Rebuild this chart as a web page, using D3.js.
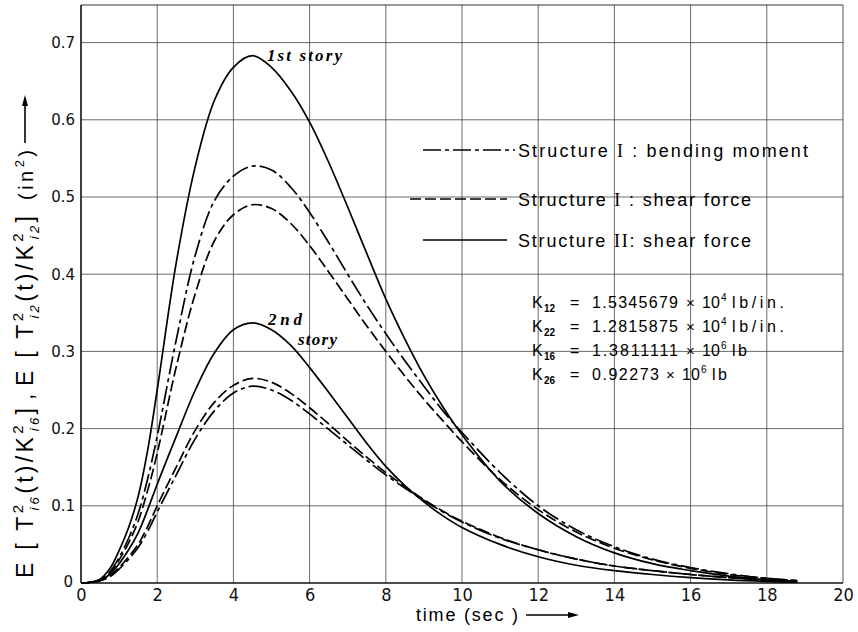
<!DOCTYPE html>
<html><head><meta charset="utf-8">
<script src="https://cdn.jsdelivr.net/npm/d3@7"></script>
<style>body{margin:0;background:#fff}</style>
</head><body>
<svg id="c" width="858" height="632"></svg>
<script>
// ---------- data ----------
const xTicks = [0, 2, 4, 6, 8, 10, 12, 14, 16, 18, 20];
const xTickLabels = ["0", "2", "4", "6", "8", "10", "12", "14", "16", "18", "20"];
const yTicks = [0, 0.1, 0.2, 0.3, 0.4, 0.5, 0.6, 0.7];
const yTickLabels = ["0", "0.1", "0.2", "0.3", "0.4", "0.5", "0.6", "0.7"];

const time = [0, 0.25, 0.5, 0.75, 1, 1.25, 1.5, 1.75, 2, 2.5, 3, 3.5, 4, 4.5, 5, 5.5, 6, 6.5, 7, 7.5, 8, 8.5, 9, 9.5, 10, 11, 12, 13, 14, 15, 16, 17, 18, 18.8];

// 1st story
const story1StructII_shear = [0, 0.001, 0.005, 0.018, 0.042, 0.072, 0.112, 0.172, 0.25, 0.415, 0.54, 0.625, 0.668, 0.683, 0.668, 0.638, 0.597, 0.545, 0.487, 0.427, 0.368, 0.316, 0.269, 0.228, 0.192, 0.132, 0.09, 0.06, 0.039, 0.025, 0.016, 0.009, 0.004, 0.002];
const story1StructI_bending = [0, 0.001, 0.004, 0.014, 0.033, 0.058, 0.09, 0.135, 0.19, 0.315, 0.425, 0.495, 0.527, 0.54, 0.535, 0.513, 0.48, 0.441, 0.4, 0.36, 0.323, 0.288, 0.255, 0.223, 0.195, 0.143, 0.1, 0.069, 0.047, 0.031, 0.02, 0.012, 0.006, 0.003];
const story1StructI_shear = [0, 0.001, 0.003, 0.012, 0.03, 0.052, 0.08, 0.12, 0.168, 0.28, 0.375, 0.443, 0.477, 0.49, 0.485, 0.466, 0.437, 0.403, 0.368, 0.333, 0.3, 0.268, 0.238, 0.21, 0.183, 0.134, 0.095, 0.066, 0.045, 0.03, 0.019, 0.011, 0.006, 0.003];
// 2nd story
const story2StructII_shear = [0, 0.001, 0.003, 0.011, 0.025, 0.043, 0.065, 0.095, 0.128, 0.19, 0.25, 0.298, 0.328, 0.337, 0.328, 0.308, 0.279, 0.247, 0.214, 0.181, 0.151, 0.126, 0.105, 0.087, 0.072, 0.05, 0.034, 0.023, 0.016, 0.011, 0.007, 0.004, 0.002, 0.001];
const story2StructI_shear = [0, 0.001, 0.003, 0.009, 0.02, 0.034, 0.05, 0.073, 0.1, 0.15, 0.198, 0.234, 0.256, 0.265, 0.26, 0.246, 0.227, 0.206, 0.184, 0.163, 0.143, 0.125, 0.108, 0.093, 0.08, 0.059, 0.043, 0.031, 0.022, 0.016, 0.011, 0.007, 0.004, 0.002];
const story2StructI_bending = [0, 0.001, 0.003, 0.008, 0.018, 0.031, 0.046, 0.067, 0.092, 0.14, 0.187, 0.223, 0.246, 0.255, 0.25, 0.237, 0.219, 0.199, 0.179, 0.159, 0.14, 0.123, 0.107, 0.092, 0.079, 0.058, 0.043, 0.031, 0.022, 0.016, 0.011, 0.007, 0.004, 0.002];

const legendLabels = [
  {pre: "Structure ", num: "I", post: " : bending moment", type: "dashdot"},
  {pre: "Structure ", num: "I", post: " : shear force", type: "dashed"},
  {pre: "Structure ", num: "II", post: ": shear force", type: "solid"}
];
const constants = [
  {k: "K", sub: "12", val: "1.5345679", exp: "4", unit: "lb/in."},
  {k: "K", sub: "22", val: "1.2815875", exp: "4", unit: "lb/in."},
  {k: "K", sub: "16", val: "1.3811111", exp: "6", unit: "lb"},
  {k: "K", sub: "26", val: "0.92273", exp: "6", unit: "lb"}
];

// ---------- drawing ----------
const svg = d3.select("#c");
const L = 81, R = 843, T = 5, B = 583;
const x = d3.scaleLinear().domain([0, 20]).range([L, R]);
const y = d3.scaleLinear().domain([0, 0.75]).range([B, 4]);

const dashes = {solid: null, dashed: "11,4", dashdot: "18,4,4,4"};

// grid
const g = svg.append("g");
g.selectAll(".vg").data(xTicks.slice(1, -1)).join("line")
  .attr("x1", d => x(d)).attr("x2", d => x(d)).attr("y1", T).attr("y2", B)
  .attr("stroke", "#444").attr("stroke-width", 0.8);
g.selectAll(".hg").data(yTicks.slice(1)).join("line")
  .attr("x1", L).attr("x2", R).attr("y1", d => y(d)).attr("y2", d => y(d))
  .attr("stroke", "#444").attr("stroke-width", 0.8);

// frame
svg.append("line").attr("x1", L).attr("x2", R).attr("y1", T).attr("y2", T).attr("stroke", "#333").attr("stroke-width", 1);
svg.append("line").attr("x1", R).attr("x2", R).attr("y1", T).attr("y2", B).attr("stroke", "#555").attr("stroke-width", 1);
svg.append("line").attr("x1", L).attr("x2", L).attr("y1", T).attr("y2", B).attr("stroke", "#111").attr("stroke-width", 1.6);
svg.append("line").attr("x1", L).attr("x2", R).attr("y1", B).attr("y2", B).attr("stroke", "#111").attr("stroke-width", 1.6);

// axes
const xAxis = d3.axisBottom(x).tickValues(xTicks).tickSize(0).tickPadding(5)
  .tickFormat((d, i) => xTickLabels[i]);
const xa = svg.append("g").attr("transform", `translate(0,${B})`).call(xAxis);
xa.select(".domain").remove();
xa.selectAll("text").attr("font-family", "'Liberation Sans Narrow','DejaVu Sans Condensed','Liberation Sans',sans-serif")
  .attr("font-size", 18).attr("fill", "#111");

const yAxis = d3.axisLeft(y).tickValues(yTicks).tickSize(0).tickPadding(6)
  .tickFormat((d, i) => yTickLabels[i]);
const ya = svg.append("g").attr("transform", `translate(${L},0)`).call(yAxis);
ya.select(".domain").remove();
ya.selectAll("text").attr("font-family", "'DejaVu Sans',sans-serif").attr("font-size", 15).attr("fill", "#111");
ya.selectAll(".tick").filter(d => d === 0).select("text").attr("dx", -2).attr("dy", "0.2em");

// curves
const line = d3.line().x((d, i) => x(time[i])).y(d => y(d)).curve(d3.curveCatmullRom.alpha(0.5));
const series = [
  {v: story1StructII_shear, t: "solid"},
  {v: story1StructI_bending, t: "dashdot"},
  {v: story1StructI_shear, t: "dashed"},
  {v: story2StructII_shear, t: "solid"},
  {v: story2StructI_shear, t: "dashed"},
  {v: story2StructI_bending, t: "dashdot"}
];
svg.selectAll(".curve").data(series).join("path")
  .attr("d", d => line(d.v)).attr("fill", "none").attr("stroke", "#000")
  .attr("stroke-width", 1.7).attr("stroke-dasharray", d => dashes[d.t]);

// annotations
const story = svg.append("g").attr("font-family", "'Liberation Serif','DejaVu Serif',serif")
  .attr("font-style", "italic").attr("font-weight", "bold").attr("font-size", 17).attr("fill", "#000");
story.append("text").attr("x", 267).attr("y", 61).attr("textLength", 75).text("1st story");
story.append("text").attr("x", 268).attr("y", 325).attr("textLength", 34).text("2nd");
story.append("text").attr("x", 298).attr("y", 345).attr("textLength", 39).text("story");

// legend
const legY = [150, 199, 240];
const legX1 = [423, 410, 423], legX2 = [515, 507, 507];
const leg = svg.append("g");
legendLabels.forEach((d, i) => {
  leg.append("line").attr("x1", legX1[i]).attr("x2", legX2[i]).attr("y1", legY[i]).attr("y2", legY[i])
    .attr("stroke", "#000").attr("stroke-width", 1.6).attr("stroke-dasharray", dashes[d.type]);
  const t = leg.append("text").attr("x", 518).attr("y", legY[i] + 7)
    .attr("font-family", "'Liberation Sans',Arial,sans-serif").attr("font-size", 18).attr("fill", "#000")
    .attr("textLength", i === 0 ? 290 : 233).attr("lengthAdjust", "spacing");
  t.append("tspan").text(d.pre);
  t.append("tspan").attr("font-family", "'Liberation Serif',serif").text(d.num);
  t.append("tspan").text(d.post);
});

// constants block
const kb = svg.append("g").attr("font-family", "'Liberation Sans',Arial,sans-serif").attr("fill", "#000");
const kY = [308, 332, 356, 380];
constants.forEach((d, i) => {
  const yy = kY[i];
  const short = i === 3;
  kb.append("text").attr("x", 532).attr("y", yy).attr("font-size", 16).text(d.k);
  kb.append("text").attr("x", 544).attr("y", yy + 4).attr("font-size", 10).attr("font-weight", "bold").text(d.sub);
  kb.append("text").attr("x", 570).attr("y", yy).attr("font-size", 16).text("=");
  kb.append("text").attr("x", 592).attr("y", yy).attr("font-size", 16)
    .attr("textLength", short ? 67 : 86).attr("lengthAdjust", "spacing").text(d.val);
  const xx = short ? 666 : 686;
  kb.append("text").attr("x", xx).attr("y", yy).attr("font-size", 15).text("×");
  kb.append("text").attr("x", xx + 16).attr("y", yy).attr("font-size", 16).text("10");
  kb.append("text").attr("x", xx + 35).attr("y", yy - 7).attr("font-size", 10).text(d.exp);
  kb.append("text").attr("x", xx + 46).attr("y", yy).attr("font-size", 16)
    .attr("textLength", d.unit.length > 2 ? 52 : 15).attr("lengthAdjust", "spacing").text(d.unit);
});

// x axis title
svg.append("text").attr("x", 416).attr("y", 621)
  .attr("font-family", "'Liberation Sans',Arial,sans-serif")
  .attr("font-size", 18).attr("fill", "#000").attr("textLength", 102).attr("lengthAdjust", "spacing").text("time (sec )");
svg.append("line").attr("x1", 526).attr("x2", 570).attr("y1", 615).attr("y2", 615).attr("stroke", "#000").attr("stroke-width", 1.6);
svg.append("path").attr("d", "M568,612 L579,615 L568,618 Z").attr("fill", "#000");

// y axis title (rotated; local x = -page y)
const yt = svg.append("g").attr("transform", "translate(33,0) rotate(-90)")
  .attr("font-family", "'Liberation Sans',Arial,sans-serif").attr("fill", "#000");
function group(x0, len, sub) {
  const t = yt.append("text").attr("x", x0).attr("y", 0).attr("font-size", 23)
    .attr("textLength", len).attr("lengthAdjust", "spacing");
  t.append("tspan").text("E [ T");
  t.append("tspan").attr("font-size", 15).attr("dy", -10).text("2");
  t.append("tspan").attr("font-size", 13).attr("font-style", "italic").attr("dx", -9).attr("dy", 16).text(sub);
  t.append("tspan").attr("dy", -6).text("(t)/K");
  t.append("tspan").attr("font-size", 15).attr("dy", -10).text("2");
  t.append("tspan").attr("font-size", 13).attr("font-style", "italic").attr("dx", -9).attr("dy", 16).text(sub);
  t.append("tspan").attr("dy", -6).text("]");
}
group(-578, 170, "i6");
yt.append("text").attr("x", -400).attr("y", 0).attr("font-size", 23).text(",");
group(-386, 170, "i2");
const u = yt.append("text").attr("x", -200).attr("y", 0).attr("font-size", 20)
  .attr("textLength", 50).attr("lengthAdjust", "spacing");
u.append("tspan").text("(in");
u.append("tspan").attr("font-size", 13).attr("dy", -9).text("2");
u.append("tspan").attr("dy", 9).text(")");
yt.append("line").attr("x1", -143).attr("x2", -104).attr("y1", -8).attr("y2", -8).attr("stroke", "#000").attr("stroke-width", 1.6);
yt.append("path").attr("d", "M-106,-11 L-95,-8 L-106,-5 Z").attr("fill", "#000");
</script>
</body></html>
